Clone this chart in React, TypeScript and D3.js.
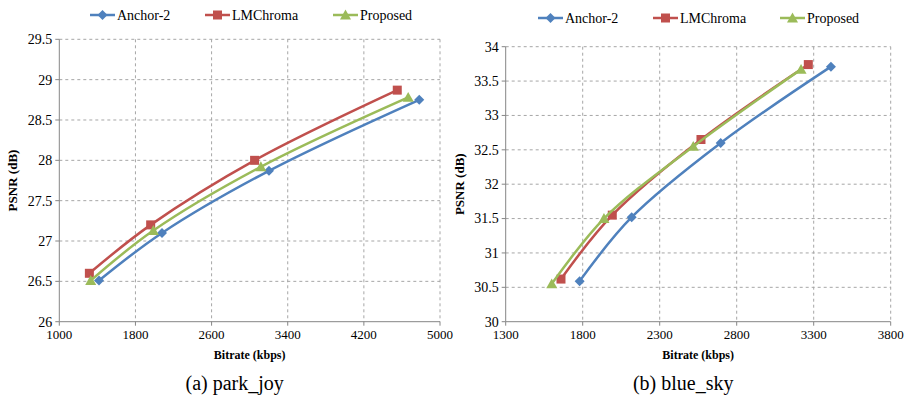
import React from 'react'
import * as d3 from 'd3'

// park_joy (left panel)
const parkAnchor = [
  { x: 1417, y: 26.51 }, { x: 2079, y: 27.1 }, { x: 3203, y: 27.87 }, { x: 4782, y: 28.75 },
]
const parkLM = [
  { x: 1316, y: 26.6 }, { x: 1960, y: 27.2 }, { x: 3052, y: 28.0 }, { x: 4551, y: 28.87 },
]
const parkProposed = [
  { x: 1330, y: 26.51 }, { x: 1988, y: 27.13 }, { x: 3118, y: 27.92 }, { x: 4666, y: 28.78 },
]
const parkXTicks = [1000, 1800, 2600, 3400, 4200, 5000]
const parkYTicks = [26, 26.5, 27, 27.5, 28, 28.5, 29, 29.5]

// blue_sky (right panel)
const skyAnchor = [
  { x: 1780, y: 30.59 }, { x: 2118, y: 31.52 }, { x: 2696, y: 32.6 }, { x: 3412, y: 33.71 },
]
const skyLM = [
  { x: 1659, y: 30.62 }, { x: 1992, y: 31.55 }, { x: 2568, y: 32.65 }, { x: 3265, y: 33.74 },
]
const skyProposed = [
  { x: 1599, y: 30.55 }, { x: 1938, y: 31.5 }, { x: 2518, y: 32.55 }, { x: 3218, y: 33.67 },
]
const skyXTicks = [1300, 1800, 2300, 2800, 3300, 3800]
const skyYTicks = [30, 30.5, 31, 31.5, 32, 32.5, 33, 33.5, 34]

const seriesNames = ['Anchor-2', 'LMChroma', 'Proposed']
const colors = ['#4F81BD', '#C0504D', '#9BBB59']

type Pt = { x: number; y: number }

const Marker = ({ kind, x, y, color }: { kind: number; x: number; y: number; color: string }) => {
  if (kind === 0) {
    const s = 5
    return <path d={`M${x},${y - s}L${x + s},${y}L${x},${y + s}L${x - s},${y}Z`} fill={color} />
  }
  if (kind === 1) {
    const s = 4.5
    return <rect x={x - s} y={y - s} width={2 * s} height={2 * s} fill={color} />
  }
  const s = 5.5
  return <path d={`M${x},${y - s}L${x + s},${y + s * 0.8}L${x - s},${y + s * 0.8}Z`} fill={color} />
}

const Panel = ({
  x0, x1, y0, y1, xDomain, yDomain, xTicks, yTicks, series, legend, caption,
}: {
  x0: number; x1: number; y0: number; y1: number
  xDomain: [number, number]; yDomain: [number, number]
  xTicks: number[]; yTicks: number[]; series: Pt[][]
  legend: { y: number; lines: number[] }; caption: string
}) => {
  const xs = d3.scaleLinear().domain(xDomain).range([x0, x1])
  const ys = d3.scaleLinear().domain(yDomain).range([y1, y0])
  const line = d3.line<Pt>().x(d => xs(d.x)).y(d => ys(d.y)).curve(d3.curveCatmullRom.alpha(0.5))
  const midX = (x0 + x1) / 2
  return (
    <g>
      {/* grid */}
      {xTicks.slice(1).map(t => (
        <line key={'gx' + t} x1={xs(t)} x2={xs(t)} y1={y0} y2={y1}
          stroke="#a6a6a6" strokeDasharray="3,3" strokeWidth={1} />
      ))}
      {yTicks.slice(1).map(t => (
        <line key={'gy' + t} x1={x0} x2={x1} y1={ys(t)} y2={ys(t)}
          stroke="#a6a6a6" strokeDasharray="3,3" strokeWidth={1} />
      ))}
      {/* axes */}
      <line x1={x0} x2={x0} y1={y0} y2={y1} stroke="#868686" />
      <line x1={x0} x2={x1} y1={y1} y2={y1} stroke="#868686" />
      {yTicks.map(t => (
        <g key={'ty' + t}>
          <line x1={x0 - 4} x2={x0} y1={ys(t)} y2={ys(t)} stroke="#868686" />
          <text x={x0 - 7} y={ys(t)} dy="0.35em" textAnchor="end" fontSize={14}>{t}</text>
        </g>
      ))}
      {xTicks.map(t => (
        <g key={'tx' + t}>
          <line x1={xs(t)} x2={xs(t)} y1={y1} y2={y1 + 4} stroke="#868686" />
          <text x={xs(t)} y={y1 + 17} textAnchor="middle" fontSize={13}>{t}</text>
        </g>
      ))}
      {/* axis titles */}
      <text x={midX} y={y1 + 37} textAnchor="middle" fontSize={12} fontWeight="bold">Bitrate (kbps)</text>
      <text transform={`translate(${x0 - 42},${(y0 + y1) / 2}) rotate(-90)`} textAnchor="middle"
        fontSize={13} fontWeight="bold">PSNR (dB)</text>
      {/* series */}
      {series.map((s, i) => (
        <g key={'s' + i}>
          <path d={line(s) || ''} fill="none" stroke={colors[i]} strokeWidth={2.5} />
          {s.map((p, j) => <Marker key={j} kind={i} x={xs(p.x)} y={ys(p.y)} color={colors[i]} />)}
        </g>
      ))}
      {/* legend */}
      {seriesNames.map((n, i) => {
        const lx = legend.lines[i]
        return (
          <g key={'l' + n}>
            <line x1={lx} x2={lx + 25} y1={legend.y} y2={legend.y} stroke={colors[i]} strokeWidth={2.5} />
            <Marker kind={i} x={lx + 12.5} y={legend.y} color={colors[i]} />
            <text x={lx + 27} y={legend.y} dy="0.35em" fontSize={14}>{n}</text>
          </g>
        )
      })}
      <text x={midX - 15} y={390} textAnchor="middle" fontSize={20}>{caption}</text>
    </g>
  )
}

export default function App() {
  return (
    <svg width={910} height={406}
      style={{ display: 'block', position: 'absolute', left: 0, top: 0, background: '#fff', fontFamily: "'Liberation Serif', 'DejaVu Serif', serif" }}>
      <Panel x0={59.3} x1={440} y0={39.3} y1={321.7}
        xDomain={[1000, 5000]} yDomain={[26, 29.5]}
        xTicks={parkXTicks} yTicks={parkYTicks}
        series={[parkAnchor, parkLM, parkProposed]}
        legend={{ y: 15, lines: [90, 205, 333] }} caption="(a) park_joy" />
      <Panel x0={505.7} x1={890.7} y0={46.7} y1={321.7}
        xDomain={[1300, 3800]} yDomain={[30, 34]}
        xTicks={skyXTicks} yTicks={skyYTicks}
        series={[skyAnchor, skyLM, skyProposed]}
        legend={{ y: 18, lines: [538, 653, 780] }} caption="(b) blue_sky" />
    </svg>
  )
}
